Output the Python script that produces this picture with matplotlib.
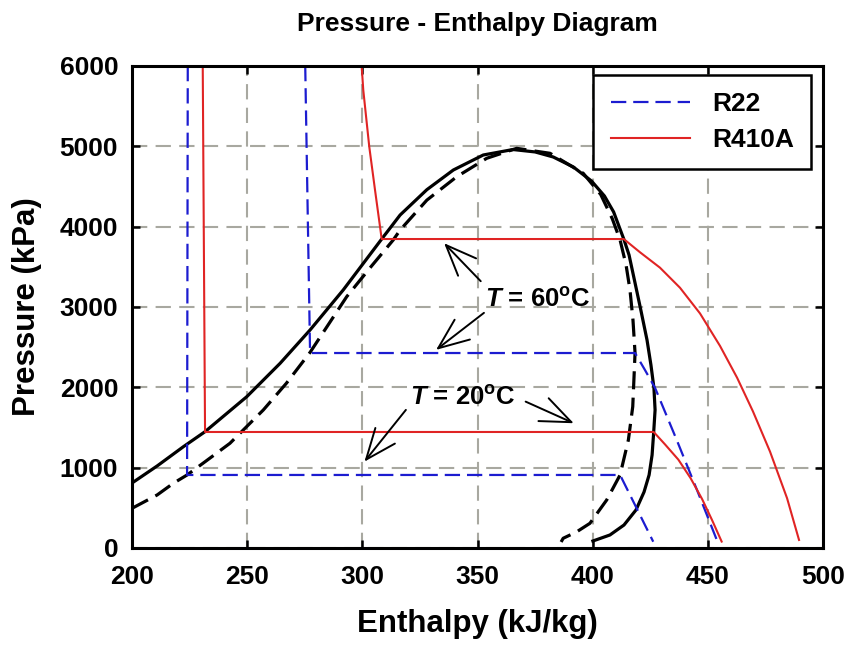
import matplotlib
matplotlib.use("Agg")
from matplotlib import pyplot as plt

# R22 saturation dome (black dashed)
r22_sat_h = [200, 210.9, 217.9, 223.9, 232, 242.5, 257, 267, 277.3, 293.2, 304, 313.4,
             316.4, 328, 341, 354, 367, 381.5, 395.9, 403.5, 408.5, 411.9, 414.5, 416.2,
             417.5, 418.4, 417.9, 417.4, 415.5, 411.9, 406.1, 398.8, 393, 387.2, 386.3]
r22_sat_p = [494, 660, 805, 909, 1080, 1303, 1718, 2050, 2435, 3128, 3510, 3834,
             3958, 4330, 4622, 4851, 4975, 4913, 4664, 4400, 4100, 3834, 3523, 3212,
             2838, 2427, 2091, 1759, 1344, 909, 598, 307, 200, 121, 75]

# R410A saturation dome (black solid)
r410_sat_h = [200, 210.9, 222.3, 231.7, 249.8, 264.3, 277.3, 291.7, 308.4, 316.4, 328,
              339.5, 352.5, 365.4, 375, 382.9, 391.6, 399.5, 405.1, 409.1, 413.5, 415.8,
              418.4, 421.0, 423.6, 425.3, 426.6, 427.1, 426.5, 425.8, 424.5, 422.3,
              418.8, 413.6, 407.5, 400.1]
r410_sat_p = [809, 1021, 1261, 1448, 1883, 2299, 2714, 3212, 3846, 4145, 4460, 4705,
              4892, 4960, 4930, 4867, 4743, 4568, 4382, 4183, 3846, 3647, 3299, 2950,
              2589, 2278, 1992, 1718, 1444, 1158, 909, 697, 473, 286, 162, 87]

# R22 isotherms (blue dashed)
r22_t20_h = [224.2, 223.9, 411.9, 419, 426.3]
r22_t20_p = [6000, 909, 909, 500, 78]
r22_t60_h = [275.2, 277.3, 418.4, 422.7, 427.1, 436.5, 445.3, 453.9]
r22_t60_p = [6000, 2427, 2427, 2216, 1992, 1344, 722, 100]

# R410A isotherms (red solid)
r410_t20_h = [230.7, 231.7, 426.5, 431.4, 437.2, 442.5, 447.5, 451.8, 456.0]
r410_t20_p = [6000, 1444, 1444, 1290, 1100, 870, 610, 350, 80]
r410_t60_h = [299.7, 300.4, 303.0, 305.5, 308.4, 413.5, 420.6, 429.2, 437.9, 446.6,
              455.3, 462.7, 469.6, 477.0, 484.4, 489.6]
r410_t60_p = [6000, 5701, 4995, 4456, 3846, 3846, 3680, 3490, 3240, 2920, 2515, 2120,
              1700, 1200, 620, 100]

xticks = [200, 250, 300, 350, 400, 450, 500]
yticks = [0, 1000, 2000, 3000, 4000, 5000, 6000]

plt.rcParams['font.family'] = ['Liberation Sans', 'DejaVu Sans']
plt.rcParams['font.weight'] = 'bold'
plt.rcParams['mathtext.fontset'] = 'custom'
plt.rcParams['mathtext.rm'] = 'Liberation Sans:bold'
plt.rcParams['mathtext.it'] = 'Liberation Sans:italic:bold'
plt.rcParams['lines.scale_dashes'] = False

fig = plt.figure(figsize=(8.48, 6.45), dpi=100)
ax = fig.add_axes([0.1557, 0.1504, 0.8148, 0.7473])

blue = '#1c1cd0'
red = '#e02424'

ax.plot(r22_sat_h, r22_sat_p, color='black', lw=2.3, dashes=(13, 6))
ax.plot(r410_sat_h, r410_sat_p, color='black', lw=2.3)

ax.plot(r22_t20_h, r22_t20_p, color=blue, lw=1.6, dashes=(11, 5), label='R22')
ax.plot(r22_t60_h, r22_t60_p, color=blue, lw=1.6, dashes=(11, 5))
ax.plot(r410_t20_h, r410_t20_p, color=red, lw=1.5, label='R410A')
ax.plot(r410_t60_h, r410_t60_p, color=red, lw=1.5)

# annotations
arr = dict(arrowstyle='->,head_length=1.1,head_width=0.45', color='black', lw=1.4,
           mutation_scale=20, shrinkA=0, shrinkB=0)
ax.annotate('', xy=(335.5, 3794), xytext=(351.4, 3321), arrowprops=arr)
ax.annotate('', xy=(332, 2466), xytext=(352.8, 2927), arrowprops=arr)
ax.annotate('', xy=(300.9, 1075), xytext=(318.9, 1719), arrowprops=arr)
ax.annotate('', xy=(391.8, 1553), xytext=(370.9, 1822), arrowprops=arr)
ax.text(376, 3088, r'$T$ = 60$^{\rm o}$C', fontsize=18.5, ha='center', va='center')
ax.text(343.7, 1868, r'$T$ = 20$^{\rm o}$C', fontsize=18.5, ha='center', va='center')

ax.set_xlim(200, 500)
ax.set_ylim(0, 6000)
ax.set_xticks(xticks)
ax.set_yticks(yticks)
ax.grid(True, color='#a8a8a0', lw=1.5, dashes=(11, 6))
ax.set_axisbelow(True)
ax.tick_params(direction='in', length=6, width=1.8, top=True, right=True,
               labelsize=19, pad=10)
ax.tick_params(axis='x', pad=12)
for s in ax.spines.values():
    s.set_linewidth(2.2)

ax.set_title('Pressure - Enthalpy Diagram', fontsize=19, fontweight='bold', pad=25)
ax.set_xlabel('Enthalpy (kJ/kg)', fontsize=22.5, fontweight='bold')
ax.set_ylabel('Pressure (kPa)', fontsize=22.5, fontweight='bold')
ax.xaxis.set_label_coords(0.5, -0.127)
ax.yaxis.set_label_coords(-0.13, 0.5)

leg = ax.legend(loc='upper right', bbox_to_anchor=(0.983, 0.981), borderaxespad=0,
                fontsize=19, handlelength=3.0, fancybox=False, framealpha=1,
                edgecolor='black', borderpad=0.65, labelspacing=0.45, handletextpad=0.85)
leg.get_frame().set_linewidth(1.8)

fig.savefig('out.png', dpi=100)
